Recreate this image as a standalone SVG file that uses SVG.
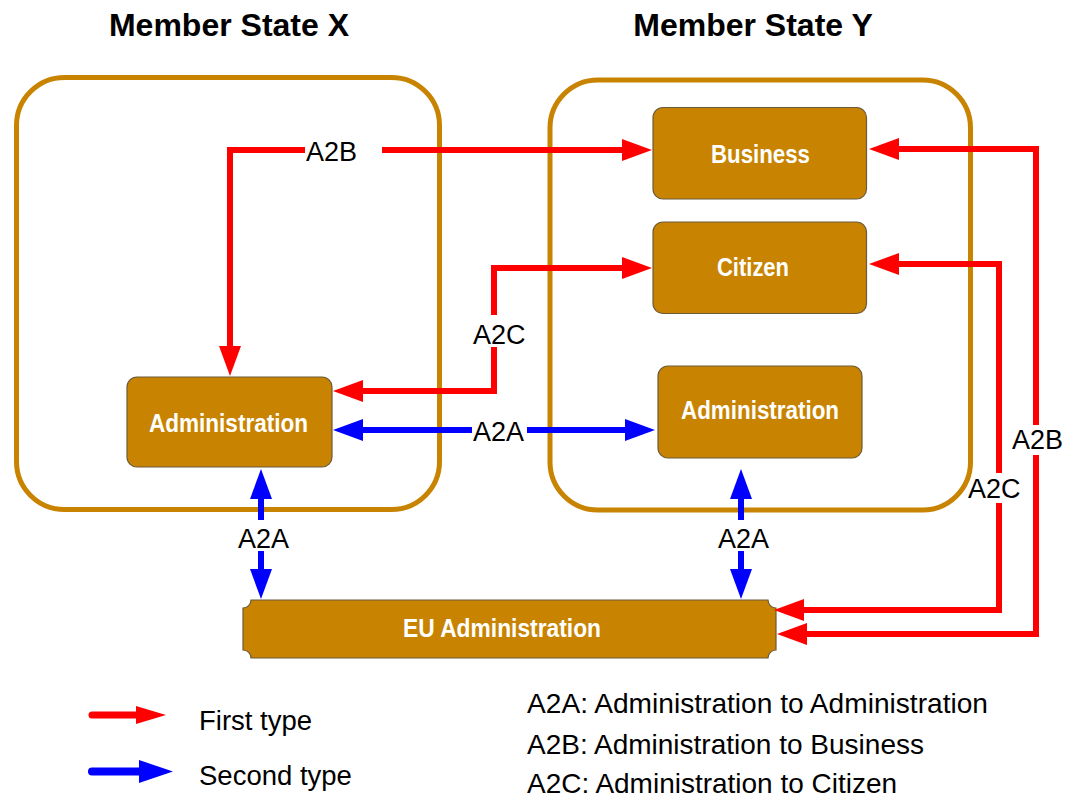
<svg xmlns="http://www.w3.org/2000/svg" width="1068" height="796" viewBox="0 0 1068 796">
<style>
  .title { font-family: "Liberation Sans", Arial, sans-serif; font-weight: bold; font-size: 32px; fill: #000; text-anchor: middle; }
  .region { fill: none; stroke: #C88400; stroke-width: 5; }
  .box { fill: #C88400; stroke: #6b5a3a; stroke-width: 1.2; }
  .boxtext { font-family: "Liberation Sans", Arial, sans-serif; font-weight: bold; font-size: 26px; fill: #fff; text-anchor: middle; }
  .lbl { font-family: "Liberation Sans", Arial, sans-serif; font-size: 27px; fill: #000; }
  .leg { font-family: "Liberation Sans", Arial, sans-serif; font-size: 27.5px; fill: #000; }
  .red { fill: none; stroke: #FF0000; stroke-width: 6; }
  .blue { fill: none; stroke: #0000FF; stroke-width: 6; }
</style>
<defs>
  <marker id="ahRed" viewBox="0 0 30 22" markerWidth="30" markerHeight="22" markerUnits="userSpaceOnUse" refX="1" refY="11" orient="auto-start-reverse">
    <path d="M0,0 L30,11 L0,22 Z" fill="#FF0000"/>
  </marker>
  <marker id="ahBlue" viewBox="0 0 30 22" markerWidth="30" markerHeight="22" markerUnits="userSpaceOnUse" refX="1" refY="11" orient="auto-start-reverse">
    <path d="M0,0 L30,11 L0,22 Z" fill="#0000FF"/>
  </marker>
  <marker id="legRed" viewBox="0 0 30 18" markerWidth="30" markerHeight="18" markerUnits="userSpaceOnUse" refX="1" refY="9" orient="auto">
    <path d="M0,0 L30,9 L0,18 Z" fill="#FF0000"/>
  </marker>
  <marker id="legBlue" viewBox="0 0 34 23" markerWidth="34" markerHeight="23" markerUnits="userSpaceOnUse" refX="1" refY="11.5" orient="auto">
    <path d="M0,0 L34,11.5 L0,23 Z" fill="#0000FF"/>
  </marker>
</defs>

<g id="titles">
  <text class="title" x="229" y="36">Member State X</text>
  <text class="title" x="753" y="36">Member State Y</text>
</g>

<g id="member-state-x">
  <rect class="region" x="16.5" y="77.5" width="423" height="432" rx="48" ry="48"/>
</g>
<g id="member-state-y">
  <rect class="region" x="550" y="80" width="420.5" height="430" rx="48" ry="48"/>
</g>

<g id="admin-x">
  <rect class="box" x="127" y="377" width="205" height="90" rx="10" ry="10"/>
  <text class="boxtext" x="228.5" y="432" textLength="159" lengthAdjust="spacingAndGlyphs">Administration</text>
</g>
<g id="business-y">
  <rect class="box" x="653" y="107.5" width="213.5" height="91.5" rx="10" ry="10"/>
  <text class="boxtext" x="760.5" y="163" textLength="99" lengthAdjust="spacingAndGlyphs">Business</text>
</g>
<g id="citizen-y">
  <rect class="box" x="653" y="222" width="213.5" height="91.5" rx="10" ry="10"/>
  <text class="boxtext" x="753" y="276" textLength="72" lengthAdjust="spacingAndGlyphs">Citizen</text>
</g>
<g id="admin-y">
  <rect class="box" x="658" y="366" width="204" height="92" rx="10" ry="10"/>
  <text class="boxtext" x="760" y="419" textLength="158" lengthAdjust="spacingAndGlyphs">Administration</text>
</g>
<g id="eu-admin">
  <path class="box" d="M251,600 H768 A8,8 0 0 0 776,608 V650 A8,8 0 0 0 768,658 H251 A8,8 0 0 0 243,650 V608 A8,8 0 0 0 251,600 Z"/>
  <text class="boxtext" x="502" y="637" textLength="198" lengthAdjust="spacingAndGlyphs">EU Administration</text>
</g>

<g id="connectors">
  <path class="red" d="M230,347 V150 H305 M382,150 H623" marker-start="url(#ahRed)" marker-end="url(#ahRed)"/>
  <path class="red" d="M362,391 H494 V347 M494,315 V268 H623" marker-start="url(#ahRed)" marker-end="url(#ahRed)"/>
  <path class="blue" d="M362,430 H472 M527,430 H626" marker-start="url(#ahBlue)" marker-end="url(#ahBlue)"/>
  <path class="blue" d="M261,498 V520 M261,551 V570" marker-start="url(#ahBlue)" marker-end="url(#ahBlue)"/>
  <path class="blue" d="M741,498 V520 M741,551 V570" marker-start="url(#ahBlue)" marker-end="url(#ahBlue)"/>
  <path class="red" d="M898,149 H1036 V425 M1036,455 V634 H806" marker-start="url(#ahRed)" marker-end="url(#ahRed)"/>
  <path class="red" d="M898,264 H999 V473 M999,503 V610 H803" marker-start="url(#ahRed)" marker-end="url(#ahRed)"/>
  <text class="lbl" x="306" y="161">A2B</text>
  <text class="lbl" x="473" y="344">A2C</text>
  <text class="lbl" x="473" y="441">A2A</text>
  <text class="lbl" x="238" y="548">A2A</text>
  <text class="lbl" x="718" y="548">A2A</text>
  <text class="lbl" x="1012" y="449">A2B</text>
  <text class="lbl" x="968" y="498">A2C</text>
</g>

<g id="legend">
  <path d="M92,715 H137" stroke="#FF0000" stroke-width="7" stroke-linecap="round" fill="none" marker-end="url(#legRed)"/>
  <path d="M92,771.5 H140" stroke="#0000FF" stroke-width="8" stroke-linecap="round" fill="none" marker-end="url(#legBlue)"/>
  <text class="leg" x="199" y="730">First type</text>
  <text class="leg" x="199" y="785">Second type</text>
  <text class="leg" x="527" y="713" textLength="461" lengthAdjust="spacingAndGlyphs">A2A: Administration to Administration</text>
  <text class="leg" x="527" y="754" textLength="397" lengthAdjust="spacingAndGlyphs">A2B: Administration to Business</text>
  <text class="leg" x="527" y="793" textLength="370" lengthAdjust="spacingAndGlyphs">A2C: Administration to Citizen</text>
</g>
</svg>
